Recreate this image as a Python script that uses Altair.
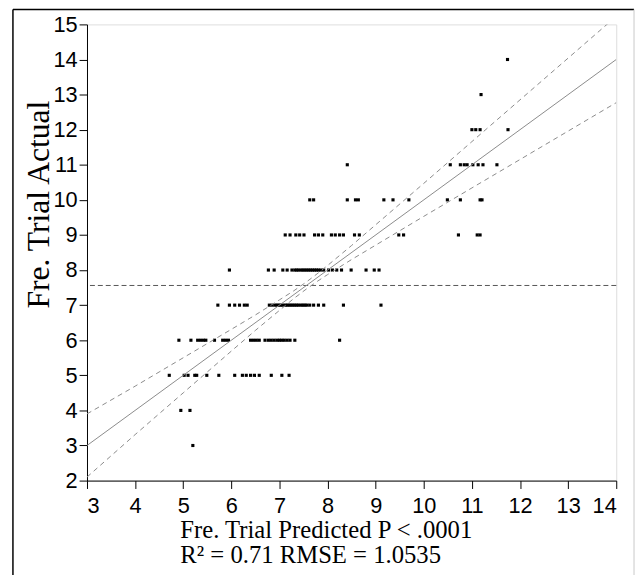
import altair as alt
import pandas as pd

# Predicted values (x) for each actual value (y)
actual_3 = [5.20]
actual_4 = [4.95, 5.14]
actual_5 = [4.71, 5.02, 5.10, 5.24, 5.28, 5.49, 5.74, 6.07, 6.23, 6.31, 6.40, 6.48, 6.58, 6.83, 7.05, 7.20]
actual_6 = [4.91, 5.16, 5.30, 5.36, 5.42, 5.47, 5.65, 5.82, 5.88, 5.94, 6.40, 6.46, 6.52, 6.58,
            6.70, 6.77, 6.83, 6.89, 6.95, 7.00, 7.05, 7.10, 7.16, 7.22, 7.32, 8.25]
actual_7 = [5.72, 5.96, 6.07, 6.17, 6.27, 6.33, 6.79, 6.85, 6.91, 6.95, 6.99, 7.03, 7.07, 7.12,
            7.16, 7.20, 7.24, 7.28, 7.32, 7.36, 7.40, 7.45, 7.49, 7.53, 7.57, 7.63, 7.71, 7.81,
            7.92, 8.33, 9.11]
actual_8 = [5.96, 6.77, 6.89, 7.07, 7.16, 7.26, 7.32, 7.36, 7.40, 7.45, 7.49, 7.53, 7.57, 7.61,
            7.65, 7.69, 7.73, 7.77, 7.81, 7.86, 7.92, 8.02, 8.10, 8.19, 8.29, 8.49, 8.80, 8.97, 9.07]
actual_9 = [7.12, 7.22, 7.34, 7.42, 7.51, 7.73, 7.81, 7.90, 8.08, 8.16, 8.25, 8.33, 8.56, 8.66,
            9.48, 9.58, 10.72, 11.11, 11.17]
actual_10 = [7.63, 7.71, 8.41, 8.58, 8.64, 9.17, 9.36, 9.69, 10.49, 10.76, 11.17, 11.21]
actual_11 = [8.41, 10.55, 10.76, 10.84, 10.90, 11.02, 11.13, 11.23, 11.52]
actual_12 = [11.00, 11.08, 11.17, 11.75]
actual_13 = [11.19]
actual_14 = [11.74]

rows = [(3, actual_3), (4, actual_4), (5, actual_5), (6, actual_6), (7, actual_7), (8, actual_8),
        (9, actual_9), (10, actual_10), (11, actual_11), (12, actual_12), (13, actual_13),
        (14, actual_14)]

# Fit line (actual = predicted), mean line, confidence curves
fit_x = [3, 14]
fit_y = [3, 14]
mean_actual = 7.56
band_x = [3, 4, 5, 6, 6.5, 7, 7.3, 7.56, 7.8, 8, 8.5, 9, 10, 11, 12, 13, 14]
band_upper = [3.90, 4.69, 5.50, 6.31, 6.72, 7.15, 7.41, 7.66, 7.91, 8.13, 8.70, 9.29, 10.47,
              11.66, 12.85, 14.04, 15.23]
band_lower = [2.10, 3.31, 4.50, 5.69, 6.28, 6.85, 7.19, 7.46, 7.69, 7.87, 8.30, 8.71, 9.53,
              10.34, 11.15, 11.96, 12.77]

x_ticks = list(range(3, 15))
y_ticks = list(range(2, 16))

pts = pd.DataFrame([(x, y) for y, xs in rows for x in xs], columns=["pred", "actual"])
fit = pd.DataFrame({"pred": fit_x, "actual": fit_y})
band = pd.DataFrame({"pred": band_x + band_x,
                     "actual": band_upper + band_lower,
                     "side": ["upper"] * len(band_x) + ["lower"] * len(band_x)})
mean_df = pd.DataFrame({"actual": [mean_actual]})

xscale = alt.Scale(domain=[3, 14], nice=False, zero=False)
yscale = alt.Scale(domain=[2, 15], nice=False, zero=False)

label_font = "Liberation Sans"
title_font = "Liberation Serif"

xaxis = alt.Axis(
    values=x_ticks, grid=False, domainColor="black", tickColor="black", labelOverlap=False,
    tickSize=8, labelFont=label_font, labelFontSize=22, labelColor="black", labelPadding=7,
    title=["Fre. Trial Predicted P < .0001", "R\u00b2 = 0.71 RMSE = 1.0535"],
    titleFont=title_font, titleFontSize=25, titleFontWeight="normal", titleColor="black",
    titleAlign="left", titleX=94, titleY=38, titleBaseline="top", titleLineHeight=25,
)
yaxis = alt.Axis(
    values=y_ticks, grid=False, domainColor="black", tickColor="black", labelOverlap=False,
    tickSize=8, labelFont=label_font, labelFontSize=22, labelColor="black", labelPadding=2,
    title="Fre. Trial Actual", titleFont=title_font, titleFontSize=32,
    titleFontWeight="normal", titleColor="black", titleAngle=270,
    titleX=-49, titleY=182, titleAlign="center", titleBaseline="middle",
)

X = alt.X("pred:Q", scale=xscale, axis=xaxis)
Y = alt.Y("actual:Q", scale=yscale, axis=yaxis)

points = alt.Chart(pts).mark_square(size=10, color="black", opacity=1).encode(x=X, y=Y)

fit_line = alt.Chart(fit).mark_line(color="#8a8a8a", strokeWidth=1, clip=True).encode(
    x=X, y=Y)

band_lines = alt.Chart(band).mark_line(color="#8a8a8a", strokeWidth=1, strokeDash=[5, 4],
                                       clip=True).encode(x=X, y=Y, detail="side:N")

mean_line = alt.Chart(mean_df).mark_rule(color="#555555", strokeWidth=1,
                                         strokeDash=[5, 3]).encode(y=Y)

frame_df = pd.DataFrame({"k": [0]})
frame_left = alt.Chart(frame_df).mark_rule(color="black", strokeWidth=1.5).encode(
    x=alt.value(-75), y=alt.value(-15), y2=alt.value(600))
frame_top = alt.Chart(frame_df).mark_rule(color="black", strokeWidth=1.5).encode(
    x=alt.value(-75), x2=alt.value(554), y=alt.value(-15))
frame_right = alt.Chart(frame_df).mark_rule(color="#c8c8c8", strokeWidth=1).encode(
    x=alt.value(554), y=alt.value(-15), y2=alt.value(600))

chart = alt.layer(
    points, mean_line, band_lines, fit_line, frame_left, frame_top, frame_right
).properties(
    width=536, height=462,
    autosize=alt.AutoSizeParams(type="none"),
    padding={"left": 80, "top": 13, "right": 20, "bottom": 92},
).configure_view(stroke="black", strokeWidth=1).configure(background="white")

chart.save("out.html", embed_options={"renderer": "svg", "actions": False})
